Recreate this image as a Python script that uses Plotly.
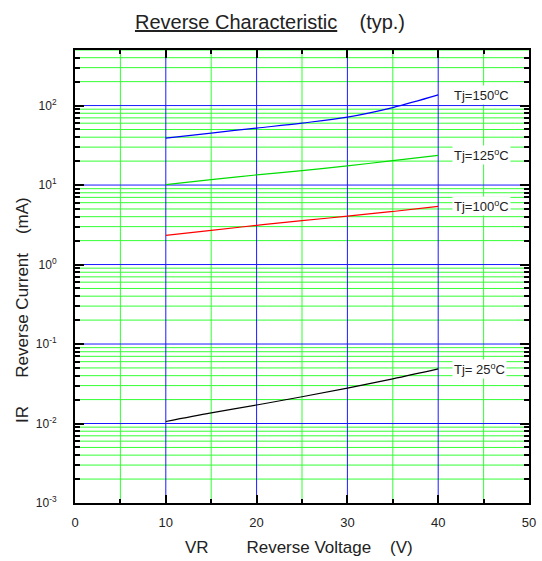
import math
import plotly.graph_objects as go

# ---- data ----
voltage_v = [10, 15, 20, 25, 30, 35, 40]
current_150 = [39.0, 45.1, 52.1, 60.2, 71.6, 94.4, 136.0]
current_125 = [10.1, 11.7, 13.4, 15.2, 17.4, 20.3, 23.6]
current_100 = [2.33, 2.69, 3.11, 3.56, 4.06, 4.65, 5.38]
current_25 = [0.0106, 0.0136, 0.0171, 0.0217, 0.0279, 0.0365, 0.0487]

series_names = ["Tj=150<sup>o</sup>C", "Tj=125<sup>o</sup>C", "Tj=100<sup>o</sup>C", "Tj= 25<sup>o</sup>C"]
series_values = [current_150, current_125, current_100, current_25]
series_colors = ["#0000ff", "#00dd00", "#ff0000", "#000000"]

y_major_ticks = [1e-3, 1e-2, 1e-1, 1e0, 1e1, 1e2]
y_major_text = ["10<sup>-3</sup>", "10<sup>-2</sup>", "10<sup>-1</sup>",
                "10<sup>0</sup>", "10<sup>1</sup>", "10<sup>2</sup>"]
y_max = 500
x_major_ticks = [0, 10, 20, 30, 40, 50]
x_minor_ticks = [5, 15, 25, 35, 45]

y_minor_ticks = [m * 10 ** e for e in range(-3, 3) for m in range(2, 10) if m * 10 ** e <= y_max]

FONT = "Liberation Sans, Arial, sans-serif"
NB = "\u00a0"
GREEN = "#33ff33"
BLUE = "#1a1aff"
TXT = "#222222"

fig = go.Figure()

# grid lines (chrome) drawn from the tick arrays
shapes = []
for v in x_minor_ticks:
    shapes.append(dict(type="line", xref="x", yref="y domain", x0=v, x1=v, y0=0, y1=1,
                       line=dict(color=GREEN, width=1), layer="below"))
for v in y_minor_ticks:
    shapes.append(dict(type="line", xref="x domain", yref="y", x0=0, x1=1,
                       y0=v, y1=v, line=dict(color=GREEN, width=1), layer="below"))
for v in x_major_ticks[1:-1]:
    shapes.append(dict(type="line", xref="x", yref="y domain", x0=v, x1=v, y0=0, y1=1,
                       line=dict(color=BLUE, width=1), layer="below"))
for v in y_major_ticks[1:]:
    shapes.append(dict(type="line", xref="x domain", yref="y", x0=0, x1=1,
                       y0=v, y1=v, line=dict(color=BLUE, width=1), layer="below"))
fig.update_layout(shapes=shapes)

for name, vals, col in zip(series_names, series_values, series_colors):
    fig.add_trace(go.Scatter(x=voltage_v, y=vals, mode="lines", name=name,
                             line=dict(color=col, width=1.2), line_shape="spline",
                             showlegend=False, hoverinfo="skip"))
    fig.add_annotation(x=voltage_v[-1], y=math.log10(vals[-1]), xref="x", yref="y",
                       text=name, showarrow=False, xanchor="left", yanchor="middle",
                       xshift=14, bgcolor="white", borderpad=1,
                       font=dict(family=FONT, size=13, color=TXT))

fig.update_layout(
    width=542, height=561,
    margin=dict(l=75, r=13, t=50, b=58, autoexpand=False),
    paper_bgcolor="white", plot_bgcolor="white",
    title=dict(text="<u>Reverse Characteristic</u>" + NB * 4 + "(typ.)",
               x=270 / 542, xanchor="center", y=1 - 22 / 561, yanchor="middle",
               font=dict(family=FONT, size=20, color=TXT)),
    font=dict(family=FONT, size=12, color=TXT),
)

fig.update_xaxes(
    range=[0, 50], tickmode="array", tickvals=x_major_ticks,
    ticks="inside", ticklen=8, tickwidth=1.5, tickcolor="black",
    showgrid=False,
    showline=True, linewidth=2, linecolor="black", mirror="ticks",
    zeroline=False, ticklabelstandoff=6,
    tickfont=dict(family=FONT, size=13, color=TXT),
    minor=dict(tickmode="array", tickvals=x_minor_ticks, ticks="inside", ticklen=4,
               tickcolor="black", tickwidth=1.5, showgrid=False),
)

fig.update_yaxes(
    type="log", range=[-3, math.log10(y_max)], tickmode="array",
    tickvals=y_major_ticks, ticktext=y_major_text,
    ticks="inside", ticklen=9, tickwidth=1.5, tickcolor="black",
    showgrid=False,
    showline=True, linewidth=2, linecolor="black", mirror="ticks",
    zeroline=False, ticklabelstandoff=14,
    tickfont=dict(family=FONT, size=12, color=TXT),
    minor=dict(tickmode="array", tickvals=y_minor_ticks, ticks="inside", ticklen=5,
               tickcolor="black", tickwidth=1.5, showgrid=False),
)

fig.add_annotation(text="VR" + NB * 8 + "Reverse Voltage" + NB * 4 + "(V)",
                   xref="paper", yref="paper", x=(299 - 75) / 454, y=-(547 - 503) / 453,
                   xanchor="center", yanchor="middle", showarrow=False,
                   font=dict(family=FONT, size=17, color=TXT))
fig.add_annotation(text="IR" + NB * 6 + "Reverse Current" + NB * 4 + "(mA)",
                   xref="paper", yref="paper", x=-(75 - 22) / 454, y=(503 - 310) / 453,
                   xanchor="center", yanchor="middle", showarrow=False, textangle=-90,
                   font=dict(family=FONT, size=17, color=TXT))

fig.write_html("out.html", config={"displayModeBar": False},
               post_script="document.body.style.margin='0px';")
